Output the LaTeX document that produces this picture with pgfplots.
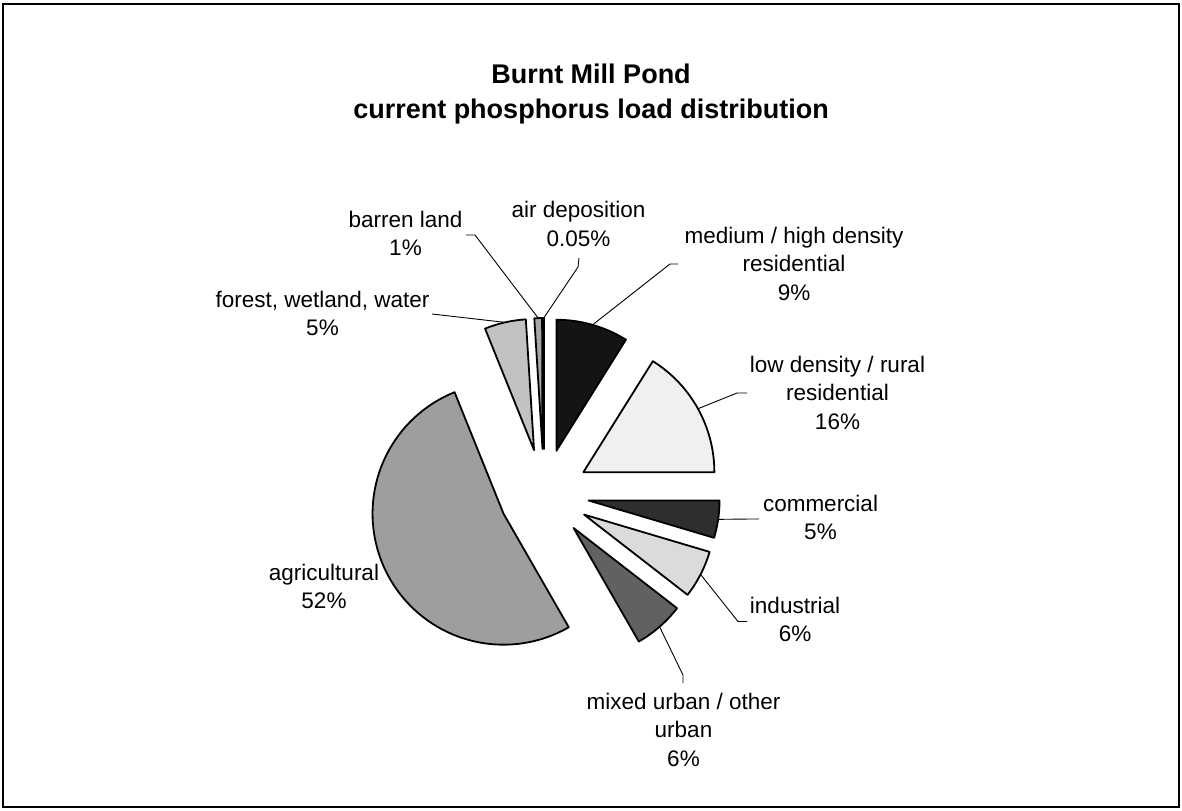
\documentclass[border=0pt]{standalone}
\usepackage{fontspec}
\setmainfont{Liberation Sans}
\usepackage{pgfplots}
\usepackage{pgfplotstable}
\pgfplotsset{compat=1.18}

% Phosphorus load shares (percent), clockwise from 12 o'clock,
% with the grey level (percent black) of each slice.
\pgfplotstableread{
share  shade
8.9    92
16.1   6
4.6    82
5.9    14
6.2    62
52.2   38
5.1    24
0.95   35
0.05   50
}\loads

% Pie geometry in chart units: centre, radius, explosion offset
\def\pcx{544}\def\pcy{494}\def\prad{131}\def\pexp{45}

\tikzset{lbl/.style={font=\fontsize{11.25}{14.25}\selectfont, align=center, inner sep=0pt},
         lead/.style={line width=0.45pt, black}}

\begin{document}
\begin{tikzpicture}
\begin{axis}[
  width=591pt, height=405pt, scale only axis,
  xmin=0, xmax=1182, ymin=0, ymax=810, y dir=reverse,
  hide axis, clip=false,
]
\path (axis cs:0,0) rectangle (axis cs:1182,810);
\draw[line width=0.8pt] (axis cs:3,4) rectangle (axis cs:1179,807);

% slices, each pushed out from the centre along its mid angle
\xdef\pieangle{90}
\pgfplotstablegetrowsof{\loads}
\pgfmathtruncatemacro\nslices{\pgfplotsretval-1}
\foreach \i in {0,...,\nslices}{
  \pgfplotstablegetelem{\i}{share}\of\loads \let\share\pgfplotsretval
  \pgfplotstablegetelem{\i}{shade}\of\loads \let\shade\pgfplotsretval
  \pgfmathsetmacro\angA{\pieangle}
  \pgfmathsetmacro\angB{\pieangle-3.6*\share}
  \pgfmathsetmacro\angM{(\angA+\angB)/2}
  \pgfmathsetmacro\apx{\pcx+\pexp*cos(\angM)}
  \pgfmathsetmacro\apy{\pcy-\pexp*sin(\angM)}
  \pgfmathsetmacro\lx{\apx+\prad*cos(\angM)}
  \pgfmathsetmacro\ly{\apy-\prad*sin(\angM)}
  \edef\doslice{%
    \noexpand\addplot[draw=black, line width=0.9pt, line join=round, fill=black!\shade,
      domain=\angB:\angA, samples=73]
      ({\apx+\prad*cos(x)},{\apy-\prad*sin(x)}) -- (axis cs:\apx,\apy) -- cycle;
    \noexpand\coordinate (lead\i) at (axis cs:\lx,\ly);
  }%
  \doslice
  \xdef\pieangle{\angB}
}

% leader lines from the middle of each arc to its label
\draw[lead] (lead0) -- (axis cs:670,264) -- (axis cs:678,264);
\draw[lead] (lead1) -- (axis cs:737,393) -- (axis cs:747,393);
\draw[lead] (lead2) -- (axis cs:750,519) -- (axis cs:759,519);
\draw[lead] (lead3) -- (axis cs:738,621.5) -- (axis cs:747,621.5);
\draw[lead] (lead4) -- (axis cs:683,675) -- (axis cs:683,683);
\draw[lead] (lead6) -- (axis cs:432,314);
\draw[lead] (lead7) -- (axis cs:475,235) -- (axis cs:466,235);
\draw[lead] (lead8) -- (axis cs:578,267) -- (axis cs:579,258);

% labels
\node[lbl] at (axis cs:794,263.5) {medium / high density\\residential\\9\%};
\node[lbl] at (axis cs:837.5,392.5) {low density / rural\\residential\\16\%};
\node[lbl] at (axis cs:820.5,517.5) {commercial\\5\%};
\node[lbl] at (axis cs:795,619.5) {industrial\\6\%};
\node[lbl] at (axis cs:683.5,729.5) {mixed urban / other\\urban\\6\%};
\node[lbl] at (axis cs:324,586.5) {agricultural\\52\%};
\node[lbl] at (axis cs:322.5,313.5) {forest, wetland, water\\5\%};
\node[lbl] at (axis cs:405.5,233.5) {barren land\\1\%};
\node[lbl] at (axis cs:578.5,224) {air deposition\\0.05\%};

% title
\node[font=\fontsize{13.5}{17.5}\selectfont\bfseries, align=center, inner sep=0pt]
  at (axis cs:591,94.5) {Burnt Mill Pond\\current phosphorus load distribution};
\end{axis}
\end{tikzpicture}
\end{document}
